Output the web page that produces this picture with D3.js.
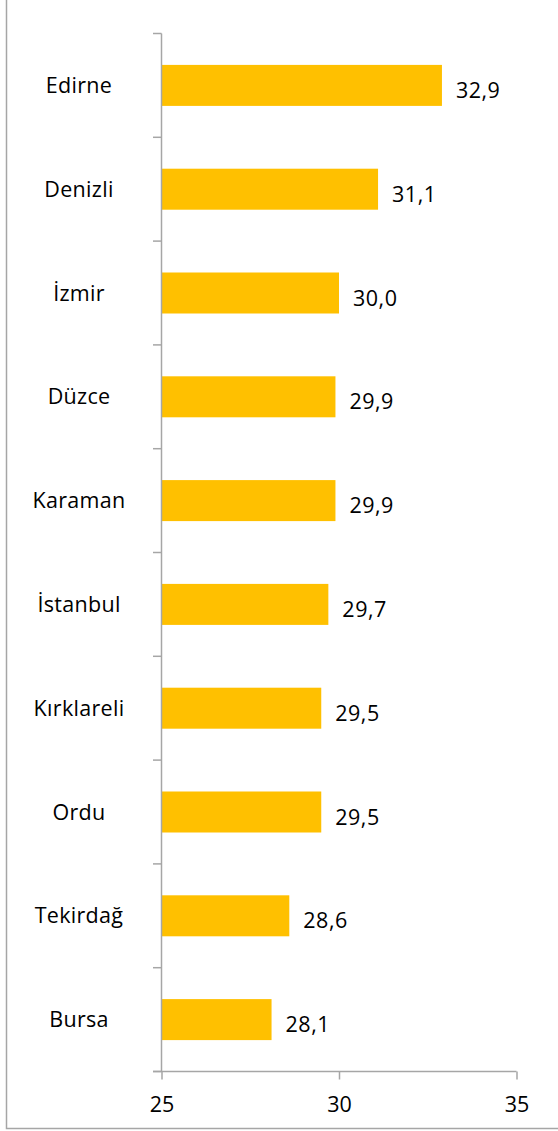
<!DOCTYPE html>
<html><head><meta charset="utf-8">
<script src="https://cdn.jsdelivr.net/npm/d3@7"></script>
<style>body{margin:0;background:#fff}svg{display:block}text{font-family:"Open Sans",sans-serif;fill:#000}</style>
</head><body><svg id="c" width="558" height="1131"></svg>
<script>
const categories=["Edirne","Denizli","İzmir","Düzce","Karaman","İstanbul","Kırklareli","Ordu","Tekirdağ","Bursa"];
const values=[32.9,31.1,30.0,29.9,29.9,29.7,29.5,29.5,28.6,28.1];
const valueLabels=["32,9","31,1","30,0","29,9","29,9","29,7","29,5","29,5","28,6","28,1"];
const xTicks=[25,30,35];

const svg=d3.select("#c");
const x=d3.scaleLinear().domain([25,35]).range([161.5,516.5]);
const y=d3.scaleBand().domain(categories).range([33.5,1071.5]).paddingInner(0.605).paddingOuter(0.3025);
const axisColor="#a6a6a6";
const fs=21.5;

// frame (left and bottom)
svg.append("path").attr("d","M6.5,0V1128.5H558").attr("fill","none").attr("stroke",axisColor).attr("stroke-width",1.5);

// bars
svg.selectAll("rect.bar").data(values).enter().append("rect")
  .attr("x",x(25)).attr("y",(d,i)=>y(categories[i]))
  .attr("width",d=>x(d)-x(25)).attr("height",y.bandwidth())
  .attr("fill","#ffc000");

// y axis
const yg=svg.append("g");
yg.append("line").attr("x1",161.5).attr("x2",161.5).attr("y1",33.5).attr("y2",1071.5).attr("stroke",axisColor).attr("stroke-width",1.5);
d3.range(categories.length+1).forEach(i=>{
  const yy=33.5+i*(1038/categories.length);
  yg.append("line").attr("x1",153).attr("x2",161.5).attr("y1",yy).attr("y2",yy).attr("stroke",axisColor).attr("stroke-width",1.5);
});
yg.selectAll("text").data(categories).enter().append("text")
  .attr("x",79).attr("y",d=>y(d)+y.bandwidth()/2).attr("dy","0.35em")
  .attr("text-anchor","middle").attr("font-size",fs).attr("letter-spacing",0.3).text(d=>d);

// x axis
const xg=svg.append("g").attr("transform","translate(0,1071.5)");
const xAxis=d3.axisBottom(x).tickValues(xTicks).tickSize(8).tickSizeOuter(0).tickFormat(d3.format("d"));
xg.call(xAxis);
xg.select(".domain").attr("stroke",axisColor).attr("stroke-width",1.5).attr("d","M153,0H516.5");
xg.selectAll(".tick line").attr("stroke",axisColor).attr("stroke-width",1.5);
xg.selectAll(".tick text").attr("font-size",fs).attr("y",25).attr("dy","0.71em").attr("font-family","'Open Sans',sans-serif").attr("fill","#000");

// value labels
svg.selectAll("text.val").data(values).enter().append("text").attr("class","val")
  .attr("x",d=>x(d)+14).attr("y",(d,i)=>y(categories[i])+y.bandwidth()/2+5).attr("dy","0.35em")
  .attr("font-size",fs).attr("letter-spacing",0.5).text((d,i)=>valueLabels[i]);
</script></body></html>
